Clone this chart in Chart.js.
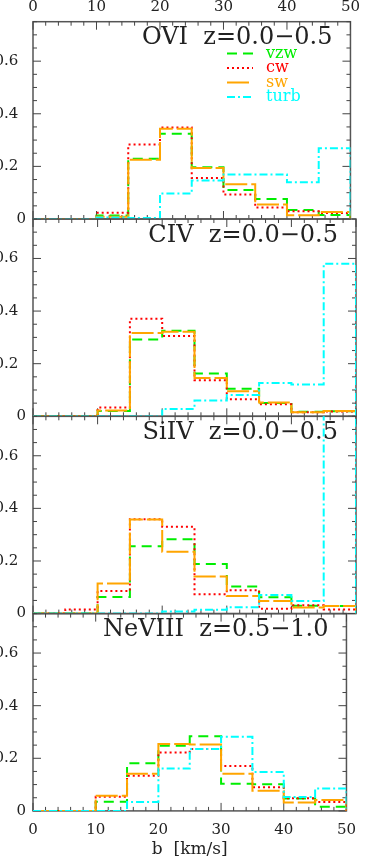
<!DOCTYPE html>
<html><head><meta charset="utf-8">
<script src="https://cdn.jsdelivr.net/npm/chart.js@4"></script>
<style>
html,body{margin:0;padding:0;background:#fff;width:366px;height:860px;overflow:hidden}
canvas{position:absolute;left:0;top:0}
</style></head>
<body>
<canvas id="c0" width="366" height="860"></canvas>
<canvas id="c1" width="366" height="860"></canvas>
<canvas id="c2" width="366" height="860"></canvas>
<canvas id="c3" width="366" height="860"></canvas>
<script>
// ---- data ----
const binEdges = [0, 5, 10, 15, 20, 25, 30, 35, 40, 45, 50];
const xTicks = [0, 10, 20, 30, 40, 50];
const yTicks = [0, 0.2, 0.4, 0.6];
const seriesNames = ['vzw', 'cw', 'sw', 'turb'];
const panelLabels = ['OVI  z=0.0\u22120.5', 'CIV  z=0.0\u22120.5', 'SiIV  z=0.0\u22120.5', 'NeVIII  z=0.5\u22121.0'];
const xTitle = 'b  [km/s]';

const oviVzw  = [0, 0, 0.013, 0.229, 0.324, 0.197, 0.110, 0.076, 0.034, 0.015];
const oviCw   = [0, 0, 0.024, 0.283, 0.348, 0.156, 0.093, 0.044, 0.029, 0.023];
const oviSw   = [0, 0, 0.009, 0.225, 0.343, 0.194, 0.132, 0.055, 0.014, 0.027];
const oviTurb = [0, 0, 0.006, 0.004, 0.097, 0.146, 0.169, 0.169, 0.140, 0.269];

const civVzw  = [0, 0, 0.020, 0.292, 0.325, 0.163, 0.105, 0.051, 0.017, 0.019];
const civCw   = [0, 0, 0.033, 0.371, 0.305, 0.137, 0.065, 0.046, 0.015, 0.018];
const civSw   = [0, 0, 0.022, 0.317, 0.321, 0.146, 0.095, 0.052, 0.015, 0.020];
const civTurb = [0, 0, 0, 0, 0.028, 0.060, 0.081, 0.127, 0.121, 0.580];

const siivVzw  = [0, 0, 0.063, 0.256, 0.283, 0.189, 0.103, 0.062, 0.030, 0.029];
const siivCw   = [0, 0.016, 0.086, 0.359, 0.330, 0.074, 0.089, 0.018, 0.032, 0.016];
const siivSw   = [0, 0, 0.114, 0.358, 0.235, 0.141, 0.067, 0.048, 0.023, 0.029];
const siivTurb = [0, 0, 0, 0, 0.008, 0.015, 0.024, 0.071, 0.048, 0.950];

const neviiiVzw  = [0, 0, 0.035, 0.181, 0.248, 0.284, 0.103, 0.101, 0.047, 0.016];
const neviiiCw   = [0, 0, 0.054, 0.134, 0.222, 0.235, 0.171, 0.090, 0.048, 0.034];
const neviiiSw   = [0, 0, 0.058, 0.141, 0.254, 0.252, 0.141, 0.077, 0.032, 0.041];
const neviiiTurb = [0, 0, 0, 0.034, 0.161, 0.235, 0.282, 0.148, 0.053, 0.085];

const panels = [
  [oviVzw, oviCw, oviSw, oviTurb],
  [civVzw, civCw, civSw, civTurb],
  [siivVzw, siivCw, siivSw, siivTurb],
  [neviiiVzw, neviiiCw, neviiiSw, neviiiTurb]
];

// ---- styles ----
const colors = ['#00ee00', '#ff0000', '#ffa500', '#00ffff'];
const dashes = [[10, 6], [2, 3], [22, 4], [8, 3, 2, 3]];
const orders = [3, 2, 1, 0];
const panelTop = [21.7, 219, 416.3, 613.6];
const panelBottom = [219, 416.3, 613.6, 810.9];
const SERIF = '"DejaVu Serif", serif';

function histPoints(vals) {
  const pts = vals.map((v, i) => ({x: binEdges[i], y: v}));
  pts.push({x: binEdges[vals.length], y: vals[vals.length - 1]});
  pts.push({x: binEdges[vals.length], y: 0});
  return pts;
}

function framePlugin(idx) {
  return {
    id: 'frame' + idx,
    beforeDatasetsDraw(chart) {
      const {ctx, chartArea: a, scales: {x, y}} = chart;
      ctx.save();
      ctx.strokeStyle = '#555';
      ctx.lineWidth = 1.5;
      ctx.strokeRect(a.left, a.top, a.right - a.left, a.bottom - a.top);
      ctx.lineWidth = 1;
      ctx.strokeStyle = '#444';
      ctx.beginPath();
      for (let v = 0; v <= 50; v += 2) {
        const px = x.getPixelForValue(v);
        const len = v % 10 === 0 ? 8 : 4;
        ctx.moveTo(px, a.top); ctx.lineTo(px, a.top + len);
        ctx.moveTo(px, a.bottom); ctx.lineTo(px, a.bottom - len);
      }
      for (let k = 0; k <= 15; k++) {
        const py = y.getPixelForValue(k * 0.05);
        const len = k % 4 === 0 ? 8 : 4;
        ctx.moveTo(a.left, py); ctx.lineTo(a.left + len, py);
        ctx.moveTo(a.right, py); ctx.lineTo(a.right - len, py);
      }
      ctx.stroke();
      ctx.restore();
    },
    afterDatasetsDraw(chart) {
      const {ctx, chartArea: a} = chart;
      ctx.save();
      ctx.fillStyle = '#222';
      ctx.font = '24px ' + SERIF;
      ctx.textAlign = 'right';
      ctx.textBaseline = 'alphabetic';
      ctx.fillText(panelLabels[idx], a.right - 18, a.top + 22.5);
      if (idx === 0) {
        const rows = [31.8, 46.3, 60.8, 75.3];
        ctx.font = '16px ' + SERIF;
        ctx.textAlign = 'left';
        ctx.textBaseline = 'middle';
        seriesNames.forEach((n, s) => {
          const yy = a.top + rows[s];
          ctx.strokeStyle = colors[s];
          ctx.lineWidth = 2;
          ctx.setLineDash(dashes[s]);
          ctx.beginPath();
          ctx.moveTo(227, yy); ctx.lineTo(253, yy);
          ctx.stroke();
          ctx.setLineDash([]);
          ctx.fillStyle = colors[s];
          ctx.fillText(n, 266, yy);
        });
      }
      ctx.restore();
    }
  };
}

function makePanel(idx) {
  const datasets = panels[idx].map((vals, s) => ({
    label: seriesNames[s],
    data: histPoints(vals),
    borderColor: colors[s],
    borderWidth: 2,
    borderDash: dashes[s],
    stepped: 'before',
    pointRadius: 0,
    fill: false,
    tension: 0,
    order: orders[s]
  }));
  const showX = idx === 0 || idx === 3;
  new Chart(document.getElementById('c' + idx), {
    type: 'line',
    data: {datasets},
    options: {
      responsive: false,
      animation: false,
      events: [],
      layout: {padding: {
        left: 0, right: 10,
        top: idx === 0 ? 0 : panelTop[idx],
        bottom: idx === 3 ? 0 : 860 - panelBottom[idx]
      }},
      plugins: {legend: {display: false}, tooltip: {enabled: false}},
      scales: {
        x: {
          type: 'linear', min: 0, max: 50,
          position: idx === 0 ? 'top' : 'bottom',
          display: showX,
          afterBuildTicks: s => { s.ticks = xTicks.map(v => ({value: v})); },
          afterFit: s => { s.height = idx === 0 ? panelTop[0] : (idx === 3 ? 860 - panelBottom[3] : 0); },
          grid: {display: false, drawTicks: false},
          border: {display: false},
          ticks: {font: {family: SERIF, size: 15}, color: '#222', padding: idx === 0 ? 6 : 10, maxRotation: 0, autoSkip: false},
          title: {display: idx === 3, text: xTitle, color: '#222', font: {family: SERIF, size: 17}, padding: {top: 0, bottom: 0}}
        },
        y: {
          type: 'linear', min: 0, max: 0.75,
          afterBuildTicks: s => { s.ticks = yTicks.map(v => ({value: v})); },
          afterFit: s => { s.width = 33; },
          grid: {display: false, drawTicks: false},
          border: {display: false},
          ticks: {
            font: {family: SERIF, size: 15}, color: '#222', padding: 7,
            callback: v => v === 0 ? '0' : v.toFixed(1) + ' \u2009'
          }
        }
      }
    },
    plugins: [framePlugin(idx)]
  });
}

[0, 1, 2, 3].forEach(makePanel);
</script>
</body></html>
